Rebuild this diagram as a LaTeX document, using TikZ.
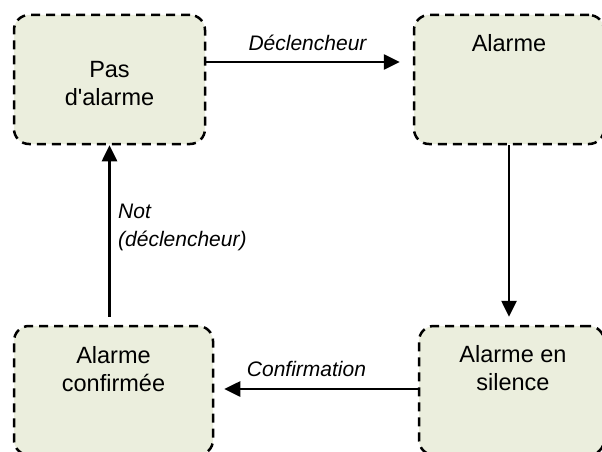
\documentclass[tikz,border=0pt]{standalone}
\usepackage{fontspec}
\setmainfont{Liberation Sans}[Ligatures=TeXOff]
\usetikzlibrary{arrows.meta}
\definecolor{boxfill}{HTML}{EBEEDD}
\begin{document}
\begin{tikzpicture}[x=1pt,y=-1pt,
  state/.style={draw=black, line width=2.5pt, dash pattern=on 9pt off 6pt,
    rounded corners=15pt, fill=boxfill, minimum width=#1,
    minimum height=129pt, inner sep=0pt},
  stext/.style={font=\fontsize{23.5}{28}\selectfont, align=center, inner sep=0pt},
  lab/.style={font=\fontsize{21}{28}\selectfont\itshape, inner sep=0pt},
  arr/.style={line width=2.6pt, -{Triangle[length=16pt,width=15pt]}}]
\useasboundingbox (0,0) rectangle (602,452);
\clip (0,0) rectangle (602,452);
\node[state=191pt] (tl) at (109.5,79.5) {};
\node[state=190pt] (tr) at (509,79.5) {};
\node[state=199pt] (bl) at (113.5,390.5) {};
\node[state=185pt] (br) at (511.5,390.5) {};
\node[stext, anchor=base] (tlt) at ([yshift=-92pt]tl.north) {Pas\\d'alarme};
\node[stext, anchor=base] (trt) at ([yshift=-38pt]tr.north) {Alarme};
\node[stext, anchor=base] (blt) at ([yshift=-67pt]bl.north) {Alarme\\confirmée};
\node[stext, anchor=base] (brt) at ([xshift=1.5pt,yshift=-66pt]br.north) {Alarme en\\silence};
\draw[arr, shorten >=13pt] ([yshift=17.5pt]tl.east) -- ([yshift=17.5pt]tr.west);
\draw[arr, shorten >=8pt] (tr.south) -- (tr.south |- br.north);
\draw[arr, shorten >=10pt] ([yshift=1.5pt]br.west) -- ([yshift=1.5pt]bl.east);
\draw[arr, shorten <=8pt] (tl.south |- bl.north) -- (tl.south);
\node[lab, anchor=base] (l1) at (307.5,51) {Déclencheur};
\node[lab, anchor=base] (l2) at (306.5,376) {Confirmation};
\node[lab, anchor=base west, align=left] (l3) at (118,246) {Not\\(déclencheur)};
\end{tikzpicture}
\end{document}
